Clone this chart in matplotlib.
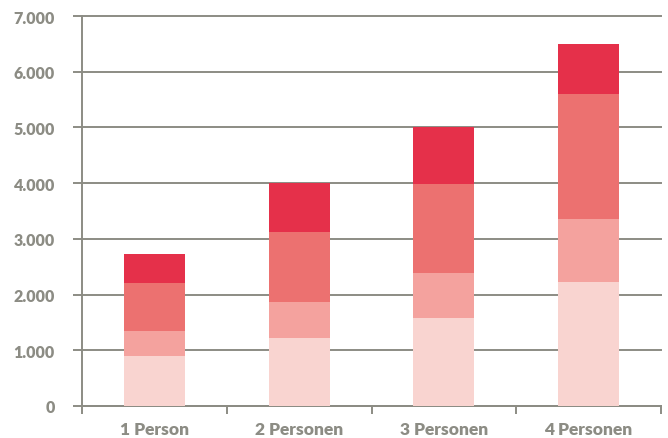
import matplotlib.pyplot as plt
import matplotlib.ticker as mticker
import numpy as np

categories = ["1 Person", "2 Personen", "3 Personen", "4 Personen"]
# stacked segments, bottom to top
seg1 = [890, 1220, 1580, 2230]
seg2 = [460, 650, 810, 1130]
seg3 = [850, 1250, 1600, 2240]
seg4 = [530, 880, 1010, 900]
segments = [seg1, seg2, seg3, seg4]
colors = ["#F9D4D0", "#F4A29E", "#EC7170", "#E5304A"]

gray = "#8C8C84"

fig = plt.figure(figsize=(6.68, 4.39), dpi=100)
ax = fig.add_axes([82 / 668, 32 / 439, (661 - 82) / 668, (407 - 17) / 439])

x = np.arange(len(categories))
bottom = np.zeros(len(categories))
for vals, c in zip(segments, colors):
    ax.bar(x, vals, width=0.42, bottom=bottom, color=c, zorder=3, linewidth=0)
    bottom += np.array(vals)

ax.set_xlim(-0.5, len(categories) - 0.5)
ax.set_ylim(0, 7000)
ax.set_yticks(np.arange(0, 7001, 1000))
ax.yaxis.set_major_formatter(mticker.FuncFormatter(lambda v, p: f"{int(v):,}".replace(",", ".")))

ax.yaxis.grid(True, color=gray, linewidth=1.4, zorder=0)
for gl in ax.get_ygridlines():
    gl.set_clip_on(False)
ax.set_axisbelow(True)

for s in ["top", "right"]:
    ax.spines[s].set_visible(False)
for s in ["left", "bottom"]:
    ax.spines[s].set_color(gray)
    ax.spines[s].set_linewidth(1.4)

fam = ["Lato", "DejaVu Sans"]
ax.tick_params(axis="y", length=6.5, width=1.4, color=gray, pad=13, labelcolor=gray)
ax.set_xticks(x)
ax.set_xticklabels(categories)
ax.tick_params(axis="x", which="major", length=0, pad=11, labelcolor=gray)
ax.set_xticks(np.arange(-0.5, len(categories)), minor=True)
ax.tick_params(axis="x", which="minor", length=6, width=1.4, color=gray, direction="out")
for lbl in ax.get_xticklabels():
    lbl.set_fontfamily(fam)
    lbl.set_fontweight("heavy")
    lbl.set_fontsize(12.5)
for lbl in ax.get_yticklabels():
    lbl.set_fontfamily(fam)
    lbl.set_fontweight("heavy")
    lbl.set_fontsize(11.5)

fig.savefig("out.png", dpi=100, facecolor="white")
